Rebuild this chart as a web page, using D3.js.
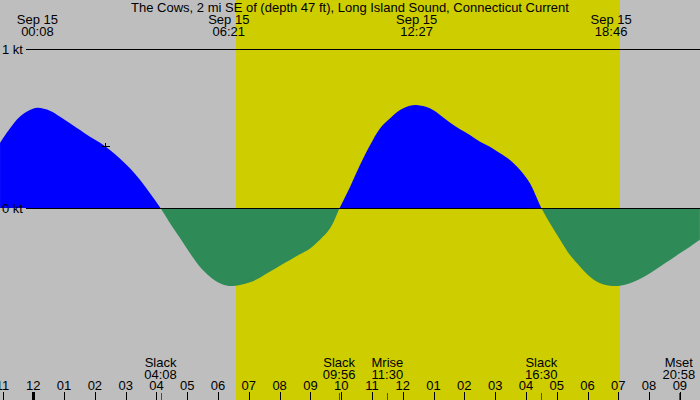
<!DOCTYPE html>
<html>
<head>
<meta charset="utf-8">
<script src="https://cdn.jsdelivr.net/npm/d3@7"></script>
<style>
html,body{margin:0;padding:0;background:#bebebe;}
svg{display:block;}
text{font-family:"Liberation Sans",Arial,Helvetica,sans-serif;font-size:13px;fill:#000;}
</style>
</head>
<body>
<svg id="chart" width="700" height="400"></svg>
<script>
// ---- data (hours after midnight Sep 15, current in knots) ----
const hours = [-1.08,-0.76,-0.43,-0.11,0.13,0.54,0.87,1.19,1.52,1.84,2.17,2.49,2.82,3.14,3.47,3.79,4.13,
  4.44,4.77,5.09,5.41,5.74,6.06,6.35,6.71,7.04,7.36,7.69,8.01,8.34,8.66,8.99,9.31,9.64,9.95,
  10.29,10.61,10.94,11.26,11.59,11.91,12.23,12.45,12.88,13.21,13.53,13.86,14.18,14.51,14.83,15.16,15.48,15.81,16.13,16.5,
  16.78,17.11,17.43,17.76,18.08,18.41,18.77,19.06,19.38,19.70,20.03,20.35,20.68,21.00,21.33,21.65];
const knots = [0.41,0.50,0.575,0.616,0.63,0.612,0.574,0.533,0.49,0.448,0.41,0.365,0.31,0.25,0.176,0.092,0,
  -0.096,-0.19,-0.285,-0.369,-0.432,-0.474,-0.49,-0.484,-0.467,-0.438,-0.40,-0.363,-0.327,-0.291,-0.254,-0.20,-0.128,0,
  0.134,0.27,0.396,0.50,0.564,0.616,0.643,0.648,0.627,0.585,0.537,0.495,0.459,0.417,0.386,0.344,0.302,0.239,0.155,0,
  -0.096,-0.20,-0.296,-0.369,-0.432,-0.474,-0.49,-0.489,-0.474,-0.447,-0.41,-0.369,-0.327,-0.285,-0.243,-0.20];

const title = "The Cows, 2 mi SE of (depth 47 ft), Long Island Sound, Connecticut Current";
const peakHours = [8/60, 6+21/60, 12+27/60, 18+46/60];
const peakLabels = ["00:08","06:21","12:27","18:46"];
const peakDate = "Sep 15";
const eventHours = [4+8/60, 9+56/60, 11+30/60, 16+30/60, 20+58/60];
const eventNames = ["Slack","Slack","Mrise","Slack","Mset"];
const eventTimes = ["04:08","09:56","11:30","16:30","20:58"];
const sunrise = 6+35/60, sunset = 19+3/60;
const tickHours = d3.range(-1, 22);
const tickLabels = ["11","12","01","02","03","04","05","06","07","08","09","10","11","12","01","02","03","04","05","06","07","08","09"];
const yTicks = [1, 0];
const yTickLabels = ["1 kt","0 kt"];
const markerHour = 2.33;

// ---- scales ----
const W = 700, H = 400;
const x = d3.scaleLinear().domain([0, 19]).range([33.3, 618.3]);
const y = d3.scaleLinear().domain([0, 1]).range([208, 49]);
const svg = d3.select("#chart");

svg.append("rect").attr("x",0).attr("y",0).attr("width",W).attr("height",H).attr("fill","#bebebe");
// daylight
svg.append("rect").attr("x",Math.round(x(sunrise))).attr("y",0)
  .attr("width",Math.round(x(sunset))-Math.round(x(sunrise))).attr("height",H).attr("fill","#cdcd00");

const data = hours.map((h,i)=>({h, v:knots[i]}));
const defs = svg.append("defs");
defs.append("clipPath").attr("id","above").append("rect").attr("x",0).attr("y",0).attr("width",W).attr("height",y(0));
defs.append("clipPath").attr("id","below").append("rect").attr("x",0).attr("y",y(0)).attr("width",W).attr("height",H-y(0));
const area = d3.area().x(d=>x(d.h)).y0(y(0)).y1(d=>y(d.v)).curve(d3.curveCatmullRom.alpha(0.5));
svg.append("path").datum(data).attr("d",area).attr("fill","#2e8b57").attr("clip-path","url(#below)");
svg.append("path").datum(data).attr("d",area).attr("fill","#0000ff").attr("clip-path","url(#above)");

// y reference lines
yTicks.forEach((t,i)=>{
  svg.append("line").attr("x1",26).attr("x2",W).attr("y1",Math.round(y(t))+0.5).attr("y2",Math.round(y(t))+0.5)
    .attr("stroke","#000").attr("stroke-width",1).attr("shape-rendering","crispEdges");
  svg.append("text").attr("x",2).attr("y",y(t)+4.5).text(yTickLabels[i]);
});

// marker "+"
const mv = d3.scaleLinear().domain(hours).range(knots)(markerHour);
const mx = Math.round(x(markerHour))+0.5, my = Math.round(y(mv))+0.5;
svg.append("path").attr("d",`M${mx-4},${my}H${mx+4}M${mx},${my-4}V${my+4}`)
  .attr("stroke","#000").attr("stroke-width",1).attr("shape-rendering","crispEdges");

// title
svg.append("text").attr("x",350).attr("y",12).attr("text-anchor","middle").text(title);

// peak labels
peakHours.forEach((h,i)=>{
  svg.append("text").attr("x",x(h)).attr("y",24).attr("text-anchor","middle").text(peakDate);
  svg.append("text").attr("x",x(h)).attr("y",36).attr("text-anchor","middle").text(peakLabels[i]);
});

// hour ticks
tickHours.forEach((h,i)=>{
  const xp = Math.round(x(h)) + ((h%24===0)?0:0.5);
  svg.append("line").attr("x1",xp).attr("x2",xp).attr("y1",392).attr("y2",400)
    .attr("stroke","#000").attr("stroke-width", (h%24===0)?3:1).attr("shape-rendering","crispEdges");
  svg.append("text").attr("x",x(h)).attr("y",390).attr("text-anchor","middle").text(tickLabels[i]);
});

// events
eventHours.forEach((h,i)=>{
  const xp = Math.round(x(h))+0.5;
  svg.append("line").attr("x1",xp).attr("x2",xp).attr("y1",393).attr("y2",400)
    .attr("stroke","#ff0000").attr("stroke-width",1).attr("shape-rendering","crispEdges");
  svg.append("text").attr("x",x(h)).attr("y",367).attr("text-anchor","middle").text(eventNames[i]);
  svg.append("text").attr("x",x(h)).attr("y",379).attr("text-anchor","middle").text(eventTimes[i]);
});
</script>
</body>
</html>
